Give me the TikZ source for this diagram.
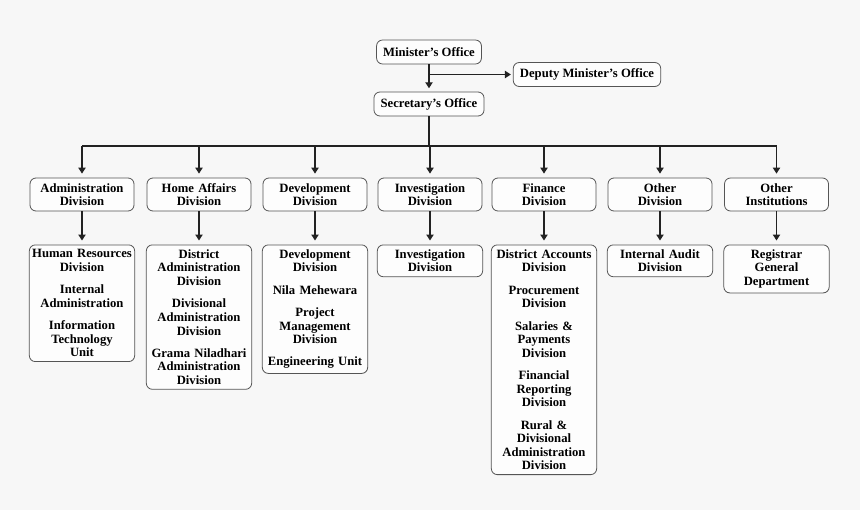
\documentclass[tikz,border=0pt]{standalone}
\usepackage{fontspec}
\setmainfont{Liberation Serif}
\usetikzlibrary{arrows.meta}
\definecolor{bgcol}{HTML}{F7F7F7}
\definecolor{boxfill}{HTML}{FDFDFD}
\definecolor{boxline}{HTML}{555555}
\definecolor{linkcol}{HTML}{222222}
\begin{document}
\begin{tikzpicture}[x=0.75pt,y=-0.75pt,
    font=\bfseries\fontsize{9.5}{10.2}\selectfont,
    box/.style={draw=boxline,fill=boxfill,rounded corners=4.5pt,line width=0.6pt,align=center},
    office/.style={box,minimum height=18pt,inner xsep=5pt},
    division/.style={box,text width=72pt,minimum height=24.75pt,inner xsep=3pt,inner ysep=2pt},
    units/.style={box,text width=76pt,anchor=north,inner xsep=1.5pt,inner ysep=3.5pt},
    link/.style={draw=linkcol,line width=0.9pt},
    arrow/.style={link,-{Triangle[length=4.5pt,width=5.5pt]},shorten >=3pt}]
  \fill[bgcol] (0,0) rectangle (860,510);
  \useasboundingbox (0,0) rectangle (860,510);
  % top offices
  \node[office] (minister) at (429,52) {Minister’s Office};
  \node[office] (deputy) at (587,74.5) {Deputy Minister’s Office};
  \node[office] (secretary) at (429,104) {Secretary’s Office};
  \coordinate (bus) at (429,146);
  % divisions
  \node[division] (admin) at (82,194.5) {Administration\\Division};
  \node[division] (home) at (199,194.5) {Home Affairs\\Division};
  \node[division] (devel) at (315,194.5) {Development\\Division};
  \node[division] (invest) at (430,194.5) {Investigation\\Division};
  \node[division] (finance) at (544,194.5) {Finance\\Division};
  \node[division] (otherdiv) at (660,194.5) {Other\\Division};
  \node[division] (otherinst) at (776.5,194.5) {Other\\Institutions};
  % units below each division
  \node[units] (adminunits) at (82,244.5) {Human Resources\\Division\\[6.5pt]
    Internal\\Administration\\[6.5pt]
    Information\\Technology\\Unit};
  \node[units] (homeunits) at (199,244.5) {District\\Administration\\Division\\[6.5pt]
    Divisional\\Administration\\Division\\[6.5pt]
    Grama Niladhari\\Administration\\Division};
  \node[units] (develunits) at (315,244.5) {Development\\Division\\[6.5pt]
    Nila Mehewara\\[6.5pt]
    Project\\Management\\Division\\[6.5pt]
    Engineering Unit};
  \node[units] (investunits) at (430,244.5) {Investigation\\Division};
  \node[units] (financeunits) at (544,244.5) {District Accounts\\Division\\[6.5pt]
    Procurement\\Division\\[6.5pt]
    Salaries \&\\Payments\\Division\\[6.5pt]
    Financial\\Reporting\\Division\\[6.5pt]
    Rural \&\\Divisional\\Administration\\Division};
  \node[units] (otherdivunits) at (660,244.5) {Internal Audit\\Division};
  \node[units] (otherinstunits) at (776.5,244.5) {Registrar\\General\\Department};
  % connectors
  \draw[arrow,shorten >=2.5pt] (minister) -- (secretary);
  \draw[arrow,shorten >=1.5pt] (minister |- deputy) -- (deputy);
  \draw[link] (secretary) -- (bus);
  \draw[link] (bus -| admin) -- (bus -| otherinst);
  \foreach \d in {admin,home,devel,invest,finance,otherdiv,otherinst}{
    \draw[arrow] (bus -| \d) -- (\d);
    \draw[arrow] (\d) -- (\d units);
  }
\end{tikzpicture}
\end{document}
